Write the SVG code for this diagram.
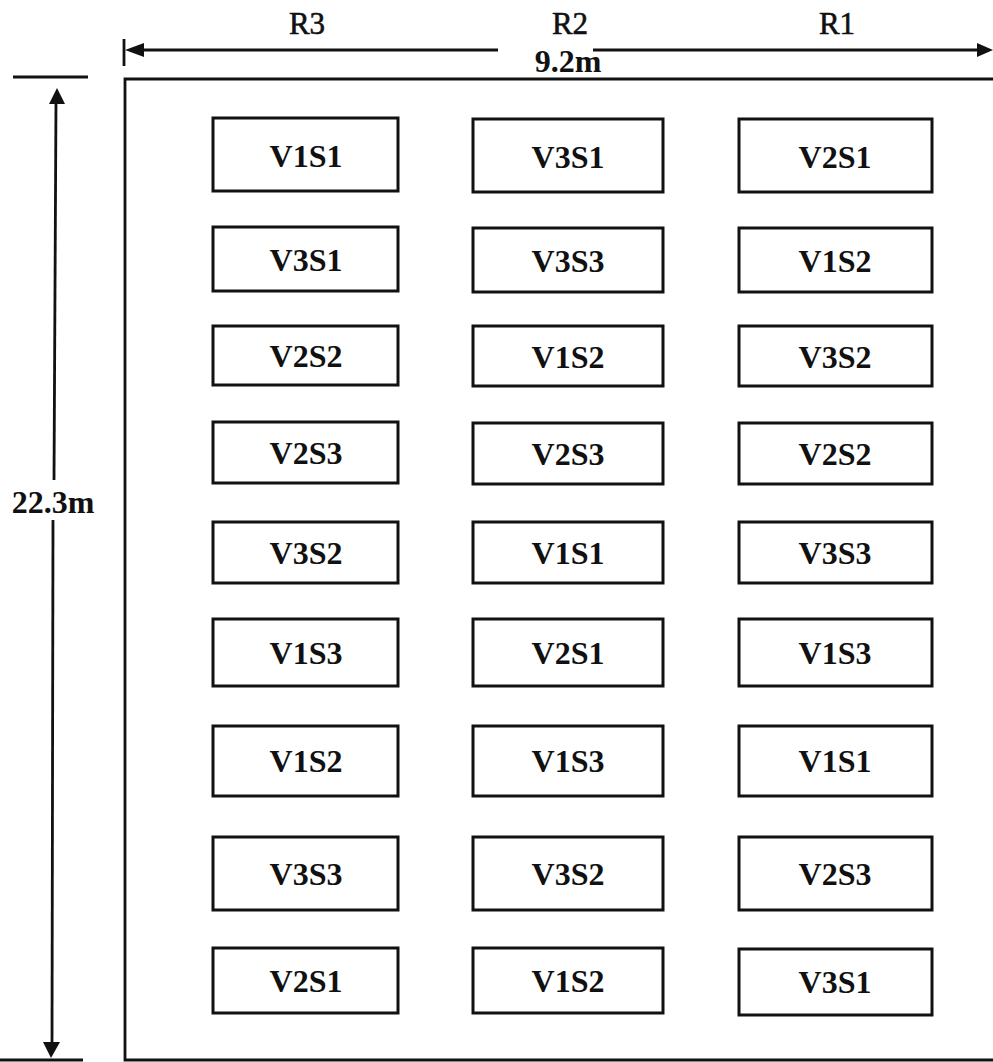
<svg xmlns="http://www.w3.org/2000/svg" width="993" height="1062" viewBox="0 0 993 1062">
<style>
.bx{fill:#fff;stroke:#111;stroke-width:3}
.t{font-family:"Liberation Serif","Times New Roman",serif;font-weight:bold;font-size:32px;fill:#111;text-anchor:middle}
.r{font-family:"Liberation Serif","Times New Roman",serif;font-size:31px;fill:#111;text-anchor:middle;stroke:#111;stroke-width:0.6}
.ln{stroke:#111;stroke-width:2.8;fill:none}
</style>
<rect width="993" height="1062" fill="#fff"/>
<g id="field">
<path class="ln" d="M993,79 H125 V1060 H993"/>
</g>
<g id="connectors">
<line class="ln" x1="124" y1="39" x2="124" y2="66"/>
<line class="ln" x1="140" y1="50" x2="498" y2="50"/>
<polygon points="125,50 144,43 144,57" fill="#111"/>
<line class="ln" x1="593" y1="50" x2="980" y2="50"/>
<polygon points="993,50 977,43 977,57" fill="#111"/>
<line class="ln" x1="13" y1="77" x2="88" y2="77"/>
<line class="ln" x1="56" y1="100" x2="54" y2="480"/>
<line class="ln" x1="53" y1="520" x2="52" y2="1045"/>
<polygon points="57,88 49,104 65,104" fill="#111"/>
<polygon points="51,1058 43,1042 60,1042" fill="#111"/>
<line class="ln" x1="0" y1="1060" x2="83" y2="1060"/>
</g>
<g id="labels">
<text class="r" x="307" y="34">R3</text>
<text class="r" x="570" y="34">R2</text>
<text class="r" x="837" y="34">R1</text>
<text class="t" x="568" y="72" font-size="29">9.2m</text>
<text class="t" x="53" y="513" font-size="31">22.3m</text>
</g>
<g id="c1r1"><rect class="bx" x="213" y="118" width="185" height="73"/><text class="t" x="306" y="167">V1S1</text></g>
<g id="c2r1"><rect class="bx" x="473" y="119" width="190" height="73"/><text class="t" x="568" y="168">V3S1</text></g>
<g id="c3r1"><rect class="bx" x="739" y="119" width="193" height="73"/><text class="t" x="835" y="168">V2S1</text></g>

<g id="c1r2"><rect class="bx" x="213" y="227" width="185" height="64"/><text class="t" x="306" y="271">V3S1</text></g>
<g id="c2r2"><rect class="bx" x="473" y="228" width="190" height="64"/><text class="t" x="568" y="272">V3S3</text></g>
<g id="c3r2"><rect class="bx" x="739" y="228" width="193" height="64"/><text class="t" x="835" y="272">V1S2</text></g>

<g id="c1r3"><rect class="bx" x="213" y="326" width="185" height="59"/><text class="t" x="306" y="367">V2S2</text></g>
<g id="c2r3"><rect class="bx" x="473" y="326" width="190" height="60"/><text class="t" x="568" y="368">V1S2</text></g>
<g id="c3r3"><rect class="bx" x="739" y="326" width="193" height="60"/><text class="t" x="835" y="368">V3S2</text></g>

<g id="c1r4"><rect class="bx" x="213" y="422" width="185" height="61"/><text class="t" x="306" y="464">V2S3</text></g>
<g id="c2r4"><rect class="bx" x="473" y="423" width="190" height="61"/><text class="t" x="568" y="465">V2S3</text></g>
<g id="c3r4"><rect class="bx" x="739" y="423" width="193" height="61"/><text class="t" x="835" y="465">V2S2</text></g>

<g id="c1r5"><rect class="bx" x="213" y="522" width="185" height="61"/><text class="t" x="306" y="564">V3S2</text></g>
<g id="c2r5"><rect class="bx" x="473" y="522" width="190" height="61"/><text class="t" x="568" y="564">V1S1</text></g>
<g id="c3r5"><rect class="bx" x="739" y="522" width="193" height="61"/><text class="t" x="835" y="564">V3S3</text></g>

<g id="c1r6"><rect class="bx" x="213" y="619" width="185" height="67"/><text class="t" x="306" y="664">V1S3</text></g>
<g id="c2r6"><rect class="bx" x="473" y="619" width="190" height="67"/><text class="t" x="568" y="664">V2S1</text></g>
<g id="c3r6"><rect class="bx" x="739" y="619" width="193" height="67"/><text class="t" x="835" y="664">V1S3</text></g>

<g id="c1r7"><rect class="bx" x="213" y="726" width="185" height="70"/><text class="t" x="306" y="772">V1S2</text></g>
<g id="c2r7"><rect class="bx" x="473" y="726" width="190" height="70"/><text class="t" x="568" y="772">V1S3</text></g>
<g id="c3r7"><rect class="bx" x="739" y="726" width="193" height="70"/><text class="t" x="835" y="772">V1S1</text></g>

<g id="c1r8"><rect class="bx" x="213" y="837" width="185" height="73"/><text class="t" x="306" y="885">V3S3</text></g>
<g id="c2r8"><rect class="bx" x="473" y="837" width="190" height="73"/><text class="t" x="568" y="885">V3S2</text></g>
<g id="c3r8"><rect class="bx" x="739" y="837" width="193" height="73"/><text class="t" x="835" y="885">V2S3</text></g>

<g id="c1r9"><rect class="bx" x="213" y="948" width="185" height="65"/><text class="t" x="306" y="992">V2S1</text></g>
<g id="c2r9"><rect class="bx" x="473" y="948" width="190" height="65"/><text class="t" x="568" y="992">V1S2</text></g>
<g id="c3r9"><rect class="bx" x="739" y="949" width="193" height="66"/><text class="t" x="835" y="993">V3S1</text></g>
</svg>
